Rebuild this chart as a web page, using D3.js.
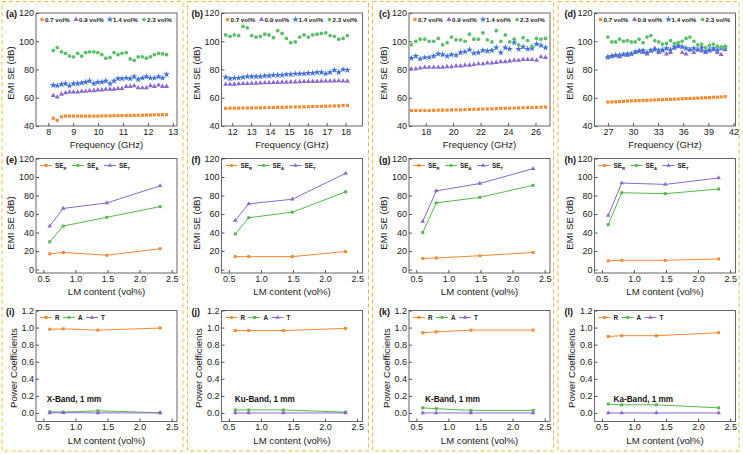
<!DOCTYPE html>
<html><head><meta charset="utf-8">
<script src="https://cdn.jsdelivr.net/npm/d3@7"></script>
<style>
body{margin:0;background:#fff}
svg{display:block;font-family:"Liberation Sans",Arial,sans-serif}
</style>
</head><body>
<svg id="c" width="743" height="454"></svg>
<script>
// ---------------- DATA ----------------
const seriesNames = ["0.7 vol%", "0.9 vol%", "1.4 vol%", "2.3 vol%"];
const freqA = [8.2,8.36,8.53,8.69,8.85,9.01,9.18,9.34,9.5,9.66,9.83,9.99,10.15,10.31,10.48,10.64,10.8,10.96,11.13,11.29,11.45,11.61,11.78,11.94,12.1,12.26,12.43,12.59,12.75];
const seA07 = [45.5,44,46.5,47,47,47,47,47,47,47,47,47,47.2,47.2,47.2,47.3,47.3,47.4,47.4,47.5,47.5,47.6,47.6,47.7,47.8,47.9,48,48,48];
const seA09 = [61.5,60.5,62.5,63.5,64,64,64,64.5,64.5,65,65,65.5,65.5,66,66,66,66.5,66.5,68,68,68.5,67,67,67,68.5,68,69,68,68];
const seA14 = [69,68.5,69.5,70,68.5,70,70,70.5,71,72,70,71,71,72,70,72,73.5,73.5,74,73.5,75,73,74,75,74,74,75,74,76.5];
const seA23 = [93.5,95.5,92.5,91.5,89.5,89,91.5,89.5,92,92.5,92.5,92,90.5,88,88.5,92,90.5,91.5,92,87.5,86.5,89,89,88,89,90.5,91.5,91,90.5];

const freqB = [11.65,11.88,12.11,12.34,12.57,12.8,13.03,13.26,13.49,13.72,13.95,14.18,14.41,14.64,14.87,15.1,15.34,15.57,15.8,16.03,16.26,16.49,16.72,16.95,17.18,17.41,17.64,17.87,18.1];
const seB07 = [52.5,52.6,52.6,52.7,52.7,52.8,52.8,52.9,52.9,53,53,53.1,53.2,53.2,53.3,53.4,53.5,53.5,53.6,53.7,53.8,53.8,53.9,54,54.1,54.2,54.3,54.5,54.6];
const seB09 = [69.5,69.5,69.6,69.8,70,70,70.2,70.3,70.4,70.5,70.6,70.7,70.8,71,71,71.1,71.2,71.3,71.4,71.5,71.5,71.6,71.7,71.8,71.8,71.9,72,71.8,71.7];
const seB14 = [74.5,73.5,74,74,74.5,75,75,75,75,75.5,75.5,76,76,76,76.5,76.5,77,77,77,77.5,77.5,78,78,77,78,79.5,78,80,79.5];
const seB23 = [104.5,103.5,104.5,104,110.5,109.5,104,103,103.5,105,104.5,102.5,107.5,105.5,102,99,99.5,103,104.5,103,104.5,105,105.5,106,104,103.5,101.5,102,104];

const freqC = [16.95,17.28,17.6,17.93,18.25,18.58,18.91,19.23,19.56,19.88,20.21,20.54,20.86,21.19,21.51,21.84,22.17,22.49,22.82,23.14,23.47,23.8,24.12,24.45,24.77,25.1,25.43,25.75,26.08,26.4,26.73];
const seC07 = [51,51,51,51,51,51.1,51.2,51.2,51.3,51.4,51.5,51.5,51.6,51.7,51.8,51.9,52,52.1,52.2,52.3,52.4,52.5,52.6,52.7,52.8,52.9,53,53.1,53.2,53.3,53.4];
const seC09 = [80.5,80.5,81,81.5,81.5,81.5,81.5,81.5,82,82,82.5,82.5,83,83,83.5,84,84,84.5,84.5,85,85.5,85.5,86,86.5,86.5,87,87,87,86.5,89,88.5];
const seC14 = [88,89.5,87.5,88.5,88.5,89.5,91,90.5,89.5,90.5,90,92,92.5,94,91.5,92,93.5,93,93.5,95.5,92,95.5,94.5,99,94.5,96,94.5,95,98,97,95.5];
const seC23 = [97.5,100,101.5,101.5,100,100,102,97.5,99,103,101,101,100,105,101.5,101.5,106,101,99.5,107.5,100,104.5,99.5,101.5,97.5,102.5,100.5,96.5,102,101.5,102];

const freqD = [27.0,27.47,27.93,28.4,28.87,29.33,29.8,30.27,30.73,31.2,31.67,32.13,32.6,33.07,33.53,34.0,34.47,34.93,35.4,35.87,36.33,36.8,37.27,37.73,38.2,38.67,39.13,39.6,40.07,40.53,41.0];
const seD07 = [57,57,57.2,57.3,57.5,57.6,57.8,57.9,58,58.1,58.2,58.3,58.5,58.6,58.7,58.8,58.9,59,59.1,59.3,59.4,59.5,59.6,59.7,59.9,60,60.1,60.3,60.4,60.6,60.8];
const seD09 = [89,89.5,90,89,90.5,90,91,92,93,92,91,93,95,92,93,91,92,95,96,92,91,94,92,94,93,92,93,94,92,90.5,94];
const seD14 = [88.5,89.5,90,90,90.5,91,91,92.5,93,93.5,92,93.5,94,93.5,94,95,94,96,97,96,95,94,95,94,95.5,93,94,95,94,95,96];
const seD23 = [103,99.5,99.5,101.5,100,100.5,99.5,99.5,101.5,99,103,104,100.5,99.5,98,98.5,100.5,98.5,99,100,102,103,100,97.5,98,95.5,97,98,96.5,96,96];

// row 2: EMI SE components vs LM content
const lmContentSE = [0.6, 0.81, 1.49, 2.32];
const seR_e = [17, 18.5, 15.5, 22.5], seA_e = [30, 47, 56.5, 68], seT_e = [47, 66, 72, 90.5];
const seR_f = [14, 14, 14, 19.5],   seA_f = [38.5, 56, 62, 84], seT_f = [53, 71, 76, 104];
const seR_g = [12, 12.5, 15, 18.5], seA_g = [40, 72, 78, 91],   seT_g = [52, 85, 93, 109];
const seR_h = [9.5, 10, 10, 11.5],  seA_h = [48.5, 83, 82, 87], seT_h = [58.5, 93.5, 92, 99];

// row 3: power coefficients
const lmContentPC = [0.6, 0.81, 1.35, 2.32];
const pR_i = [0.98, 0.985, 0.97, 0.995], pA_i = [0.015, 0.01, 0.025, 0.003], pT_i = [0, 0.003, 0.001, 0];
const pR_j = [0.965, 0.965, 0.965, 0.99], pA_j = [0.035, 0.035, 0.035, 0.01], pT_j = [0, 0, 0, 0];
const pR_k = [0.94, 0.95, 0.97, 0.97], pA_k = [0.06, 0.05, 0.03, 0.03], pT_k = [0, 0, 0, 0];
const pR_l = [0.895, 0.905, 0.905, 0.94], pA_l = [0.105, 0.095, 0.095, 0.06], pT_l = [0, 0, 0, 0];

const bandNames = ["X-Band, 1 mm", "Ku-Band, 1 mm", "K-Band, 1 mm", "Ka-Band, 1 mm"];
const panelLetters = ["(a)","(b)","(c)","(d)","(e)","(f)","(g)","(h)","(i)","(j)","(k)","(l)"];
const freqTicks = [[8,9,10,11,12,13],[12,13,14,15,16,17,18],[18,20,22,24,26],[27,30,33,36,39,42]];
const lmTicks = [0.5,1.0,1.5,2.0,2.5];
const seTicks1 = [40,60,80,100,120];
const seTicks2 = [0,20,40,60,80,100,120];
const pcTicks = [0,0.2,0.4,0.6,0.8,1.0,1.2];

// ---------------- STYLE / LAYOUT ----------------
const C = {orange:"#f58a30", purple:"#8b68d0", blue:"#3f73d9", green:"#5cbf68", gline:"#55b94f"};
const svg = d3.select("#c");
const colX = [0, 185.5, 373, 558.5];
const frameX = [2, 187.5, 372.5, 558];
const rows = [{top:13,bottom:126,titleX:22,titleY:73},{top:158.5,bottom:273,titleX:22,titleY:223},{top:310.5,bottom:421.5,titleX:19.5,titleY:368}];
const PL = 36, PW = 141;
const freqDomains = [[7.506,13.17],[11.43,18.9],[16.78,27.06],[25.4,42.24]];
const lmDomain = [0.386, 2.583];

// frames
frameX.forEach(fx => {
  svg.append("rect").attr("x",fx).attr("y",1.5).attr("width",181).attr("height",449.5)
    .attr("fill","none").attr("stroke","#e9bc3c").attr("stroke-width",1).attr("stroke-dasharray","4,3");
});

function axes(g, x, y, xTicks, yTicks, xFmt, yFmt, row, xTitle, yTitle, letter) {
  const [x0,x1] = x.range(), [yb,yt] = y.range();
  g.append("g").attr("transform",`translate(0,${yb})`)
    .call(d3.axisBottom(x).tickValues(xTicks).tickFormat(xFmt).tickSizeInner(-3).tickSizeOuter(0).tickPadding(2.5))
    .call(a=>{a.select(".domain").remove(); a.selectAll("line").attr("stroke","#555");
      a.selectAll("text").attr("font-size",9).attr("fill","#222");});
  g.append("g").attr("transform",`translate(${x0},0)`)
    .call(d3.axisLeft(y).tickValues(yTicks).tickFormat(yFmt).tickSizeInner(-3).tickSizeOuter(0).tickPadding(2))
    .call(a=>{a.select(".domain").remove(); a.selectAll("line").attr("stroke","#555");
      a.selectAll("text").attr("font-size",9).attr("fill","#222");});
  g.append("rect").attr("x",x0).attr("y",yt).attr("width",x1-x0).attr("height",yb-yt)
    .attr("fill","none").attr("stroke","#555").attr("stroke-width",0.9);
  g.append("text").attr("x",(x0+x1)/2).attr("y",yb+22).attr("text-anchor","middle")
    .attr("font-size",9.6).attr("fill","#222").text(xTitle);
  g.append("text").attr("transform",`translate(${x0-rows[row].titleX},${rows[row].titleY}) rotate(-90)`)
    .attr("text-anchor","middle").attr("font-size",9.6).attr("fill","#222").text(yTitle);
  g.append("text").attr("x",x0-30).attr("y",yt+4).attr("font-size",9).attr("font-weight","bold")
    .attr("fill","#111").text(letter);
}

const sym = {
  sq: d3.symbol().type(d3.symbolSquare),
  tri: d3.symbol().type(d3.symbolTriangle),
  star: d3.symbol().type(d3.symbolStar),
  circ: d3.symbol().type(d3.symbolCircle)
};

// ---------------- ROW 1 ----------------
const row1 = [
  {f:freqA, s:[seA07,seA09,seA14,seA23]},
  {f:freqB, s:[seB07,seB09,seB14,seB23]},
  {f:freqC, s:[seC07,seC09,seC14,seC23]},
  {f:freqD, s:[seD07,seD09,seD14,seD23]}
];
const r1Style = [
  {c:C.orange, t:"sq", size:10},
  {c:C.purple, t:"tri", size:11},
  {c:C.blue, t:"star", size:14},
  {c:C.green, t:"circ", size:11}
];
row1.forEach((p,i) => {
  const g = svg.append("g");
  const x = d3.scaleLinear().domain(freqDomains[i]).range([colX[i]+PL, colX[i]+PL+PW]);
  const y = d3.scaleLinear().domain([40,120]).range([rows[0].bottom, rows[0].top]);
  axes(g, x, y, freqTicks[i], seTicks1, d3.format("d"), d3.format("d"), 0,
       "Frequency (GHz)", "EMI SE (dB)", panelLetters[i]);
  p.s.forEach((vals, k) => {
    const st = r1Style[k];
    g.append("g").selectAll("path").data(vals).join("path")
      .attr("d", sym[st.t].size(st.size)())
      .attr("transform",(d,j)=>`translate(${x(p.f[j])},${y(d)})`)
      .attr("fill", st.c);
  });
  // legend
  const lx = colX[i]+PL;
  seriesNames.forEach((n,k) => {
    const st = r1Style[k];
    const xx = lx + 6 + k*34;
    g.append("path").attr("d", sym[st.t].size(st.size)()).attr("transform",`translate(${xx},${19.5})`).attr("fill",st.c);
    g.append("text").attr("x",xx+3).attr("y",21.7).attr("font-size",6.2).attr("font-weight","bold")
      .attr("fill","#222").text(n);
  });
});

// ---------------- ROW 2 ----------------
const row2 = [
  [seR_e,seA_e,seT_e],[seR_f,seA_f,seT_f],[seR_g,seA_g,seT_g],[seR_h,seA_h,seT_h]
];
const r2Style = [{c:C.orange,t:"sq",sub:"R"},{c:C.gline,t:"sq",sub:"A"},{c:C.purple,t:"tri",sub:"T"}];
row2.forEach((p,i) => {
  const g = svg.append("g");
  const x = d3.scaleLinear().domain(lmDomain).range([colX[i]+PL, colX[i]+PL+PW]);
  const y = d3.scaleLinear().domain([-3.7,120]).range([rows[1].bottom, rows[1].top]);
  axes(g, x, y, lmTicks, seTicks2, d3.format(".1f"), d3.format("d"), 1,
       "LM content (vol%)", "EMI SE (dB)", panelLetters[4+i]);
  const line = d3.line().x((d,j)=>x(lmContentSE[j])).y(d=>y(d));
  p.forEach((vals,k) => {
    const st = r2Style[k];
    g.append("path").datum(vals).attr("d",line).attr("fill","none").attr("stroke",st.c).attr("stroke-width",1);
    g.append("g").selectAll("path").data(vals).join("path")
      .attr("d", sym[st.t].size(9)())
      .attr("transform",(d,j)=>`translate(${x(lmContentSE[j])},${y(d)})`).attr("fill",st.c);
  });
  const lx = colX[i]+PL;
  r2Style.forEach((st,k) => {
    const xx = lx + 4 + k*32;
    g.append("line").attr("x1",xx).attr("x2",xx+12).attr("y1",165.5).attr("y2",165.5).attr("stroke",st.c).attr("stroke-width",1);
    g.append("path").attr("d", sym[st.t].size(8)()).attr("transform",`translate(${xx+6},165.5)`).attr("fill",st.c);
    const t = g.append("text").attr("x",xx+15).attr("y",168).attr("font-size",6.3).attr("font-weight","bold").attr("fill","#222");
    t.append("tspan").text("SE");
    t.append("tspan").attr("font-size",4.2).attr("dy",1.5).text(st.sub);
  });
});

// ---------------- ROW 3 ----------------
const row3 = [
  [pR_i,pA_i,pT_i],[pR_j,pA_j,pT_j],[pR_k,pA_k,pT_k],[pR_l,pA_l,pT_l]
];
const r3Style = [{c:C.orange,t:"sq",n:"R"},{c:C.gline,t:"sq",n:"A"},{c:C.purple,t:"tri",n:"T"}];
const bandLabelDX = [10.7, 13.3, 16, 19];
row3.forEach((p,i) => {
  const g = svg.append("g");
  const x = d3.scaleLinear().domain(lmDomain).range([colX[i]+PL, colX[i]+PL+PW]);
  const y = d3.scaleLinear().domain([-0.1,1.2]).range([rows[2].bottom, rows[2].top]);
  axes(g, x, y, lmTicks, pcTicks, d3.format(".1f"), d3.format(".1f"), 2,
       "LM content (vol%)", "Power Coefficients", panelLetters[8+i]);
  const line = d3.line().x((d,j)=>x(lmContentPC[j])).y(d=>y(d));
  p.forEach((vals,k) => {
    const st = r3Style[k];
    g.append("path").datum(vals).attr("d",line).attr("fill","none").attr("stroke",st.c).attr("stroke-width",1);
    g.append("g").selectAll("path").data(vals).join("path")
      .attr("d", sym[st.t].size(9)())
      .attr("transform",(d,j)=>`translate(${x(lmContentPC[j])},${y(d)})`).attr("fill",st.c);
  });
  const lx = colX[i]+PL;
  r3Style.forEach((st,k) => {
    const xx = lx + 4 + k*23;
    g.append("line").attr("x1",xx).attr("x2",xx+12).attr("y1",317.5).attr("y2",317.5).attr("stroke",st.c).attr("stroke-width",1);
    g.append("path").attr("d", sym[st.t].size(8)()).attr("transform",`translate(${xx+6},317.5)`).attr("fill",st.c);
    g.append("text").attr("x",xx+15).attr("y",320).attr("font-size",6.3).attr("font-weight","bold").attr("fill","#222").text(st.n);
  });
  g.append("text").attr("x",lx+bandLabelDX[i]).attr("y",402).attr("font-size",8.2).attr("font-weight","bold")
    .attr("fill","#111").text(bandNames[i]);
});
</script>
</body></html>
